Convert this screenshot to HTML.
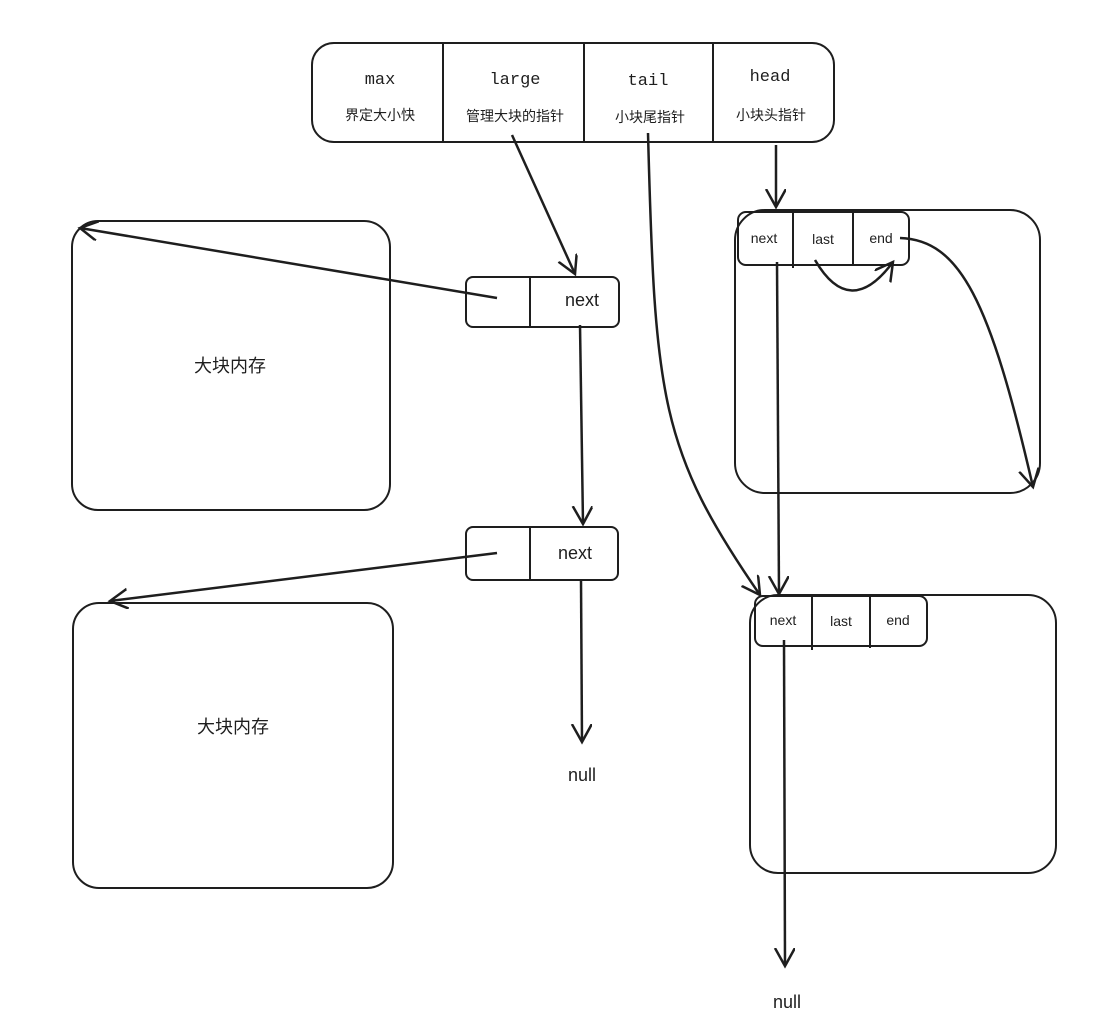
<!DOCTYPE html>
<html><head><meta charset="utf-8"><style>
html,body{margin:0;padding:0;background:#fff;}
svg{display:block;}
text{fill:#1e1e1e;}
.m{font-family:"Liberation Mono",monospace;font-size:17px;}
.c{font-family:"Liberation Sans","Noto Sans CJK SC",sans-serif;font-size:14px;}
.s{font-family:"Liberation Sans","Noto Sans CJK SC",sans-serif;font-size:18px;}
.x{font-family:"Liberation Sans",sans-serif;font-size:14px;}
</style></head><body>
<svg width="1118" height="1035" viewBox="0 0 1118 1035" xmlns="http://www.w3.org/2000/svg">
<defs>
<marker id="a" markerWidth="24" markerHeight="24" refX="18" refY="10" orient="auto" markerUnits="userSpaceOnUse">
<path d="M0 0 L18 10 L0 20" fill="none" stroke="#1e1e1e" stroke-width="2.5"/>
</marker>
</defs>
<g fill="none" stroke="#1e1e1e" stroke-width="2">
<rect x="312" y="43" width="522" height="99" rx="22"/>
<line x1="443" y1="44" x2="443" y2="141"/>
<line x1="584" y1="44" x2="584" y2="143"/>
<line x1="713" y1="44" x2="713" y2="143"/>
<rect x="72" y="221" width="318" height="289" rx="26"/>
<rect x="73" y="603" width="320" height="285" rx="26"/>
<rect x="466" y="277" width="153" height="50" rx="7"/>
<line x1="530" y1="277" x2="530" y2="327"/>
<rect x="466" y="527" width="152" height="53" rx="7"/>
<line x1="530" y1="527" x2="530" y2="580"/>
<rect x="735" y="210" width="305" height="283" rx="30"/>
<rect x="738" y="212" width="171" height="53" rx="8"/>
<line x1="793" y1="213" x2="793" y2="268"/>
<line x1="853" y1="213" x2="853" y2="265"/>
<rect x="750" y="595" width="306" height="278" rx="28"/>
<rect x="755" y="596" width="172" height="50" rx="8"/>
<line x1="812" y1="596" x2="812" y2="650"/>
<line x1="870" y1="596" x2="870" y2="648"/>
</g>
<g fill="none" stroke="#1e1e1e" stroke-width="2.5">
<line x1="512" y1="135" x2="575" y2="274" marker-end="url(#a)"/>
<path d="M648 133 C655 400 660 450 760 595" marker-end="url(#a)"/>
<line x1="776" y1="145" x2="776" y2="207" marker-end="url(#a)"/>
<line x1="497" y1="298" x2="80" y2="228" marker-end="url(#a)"/>
<line x1="580" y1="325" x2="583" y2="524" marker-end="url(#a)"/>
<line x1="497" y1="553" x2="110" y2="601" marker-end="url(#a)"/>
<line x1="581" y1="580" x2="582" y2="742" marker-end="url(#a)"/>
<line x1="777" y1="262" x2="779" y2="594" marker-end="url(#a)"/>
<path d="M815 260 Q850 320 893 262" marker-end="url(#a)"/>
<path d="M900 238 C960 240 990 300 1033 487" marker-end="url(#a)"/>
<line x1="784" y1="640" x2="785" y2="966" marker-end="url(#a)"/>
</g>
<g text-anchor="middle">
<text class="m" x="380" y="84">max</text>
<text class="m" x="515" y="84">large</text>
<text class="m" x="648" y="85">tail</text>
<text class="m" x="770" y="81">head</text>
<text class="c" x="380" y="120">界定大小快</text>
<text class="c" x="515" y="121">管理大块的指针</text>
<text class="c" x="650" y="122">小块尾指针</text>
<text class="c" x="771" y="120">小块头指针</text>
<text class="s" x="230" y="372">大块内存</text>
<text class="s" x="233" y="733">大块内存</text>
<text class="s" x="582" y="306">next</text>
<text class="s" x="575" y="559">next</text>
<text class="s" x="582" y="781">null</text>
<text class="s" x="787" y="1008">null</text>
<text class="x" x="764" y="243">next</text>
<text class="x" x="823" y="244">last</text>
<text class="x" x="881" y="243">end</text>
<text class="x" x="783" y="625">next</text>
<text class="x" x="841" y="626">last</text>
<text class="x" x="898" y="625">end</text>
</g>
</svg>
</body></html>
